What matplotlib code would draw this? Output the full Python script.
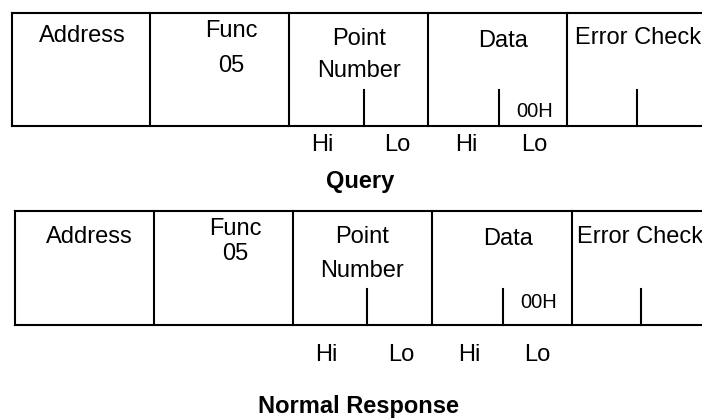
import matplotlib.pyplot as plt

plt.rcParams['font.family'] = ['Liberation Sans', 'DejaVu Sans']

# contenu des deux trames
fields = ["Address", "Func\n05", "Point\nNumber", "Data", "Error Check"]
data_value = "00H"
byte_labels = ["Hi", "Lo", "Hi", "Lo"]
titles = ["Query", "Normal Response"]

# mise en page (pixels, origine en haut a gauche)
tables = [
    dict(left=12, top=12.5, bottom=126, cols=[150, 289, 428, 567], ticks=[364, 499, 637],
         tick_top=90, text_x=[82, 231, 359, 503, 575], text_y=[42, 37, 45, 47, 44],
         line2_y=[None, 72, 77, None, None], val_xy=(535, 117),
         byte_x=[322, 397, 466, 534], byte_y=151, title_xy=(360, 188)),
    dict(left=15, top=211, bottom=325, cols=[154, 293, 432, 572], ticks=[367, 503, 641],
         tick_top=289, text_x=[89, 235, 362, 508, 577], text_y=[243, 235, 243, 245, 243],
         line2_y=[None, 260, 277, None, None], val_xy=(539, 308),
         byte_x=[326, 401, 469, 537], byte_y=361, title_xy=(358, 413)),
]

fig = plt.figure(figsize=(7.02, 4.2), dpi=100)
ax = fig.add_axes([0, 0, 1, 1])
ax.set_xlim(0, 702)
ax.set_ylim(420, 0)
ax.axis('off')

lw = 1.5
fs = 17

for t, title in zip(tables, titles):
    # cadre
    ax.plot([t['left'], 702], [t['top'], t['top']], color='black', lw=lw)
    ax.plot([t['left'], 702], [t['bottom'], t['bottom']], color='black', lw=lw)
    ax.plot([t['left'], t['left']], [t['top'], t['bottom']], color='black', lw=lw)
    for x in t['cols']:
        ax.plot([x, x], [t['top'], t['bottom']], color='black', lw=lw)
    for x in t['ticks']:
        ax.plot([x, x], [t['tick_top'], t['bottom']], color='black', lw=lw)

    # textes des champs
    for i, name in enumerate(fields):
        lines = name.split("\n")
        ha = 'left' if i == len(fields) - 1 else 'center'
        ax.text(t['text_x'][i], t['text_y'][i], lines[0], ha=ha, va='baseline', fontsize=fs)
        if len(lines) > 1:
            ax.text(t['text_x'][i], t['line2_y'][i], lines[1], ha='center', va='baseline', fontsize=fs)

    ax.text(t['val_xy'][0], t['val_xy'][1], data_value, ha='center', va='baseline', fontsize=14.5)

    for x, lab in zip(t['byte_x'], byte_labels):
        ax.text(x, t['byte_y'], lab, ha='center', va='baseline', fontsize=fs)

    ax.text(t['title_xy'][0], t['title_xy'][1], title, ha='center', va='baseline',
            fontsize=fs, fontweight='bold')

fig.savefig("out.png", dpi=100)
